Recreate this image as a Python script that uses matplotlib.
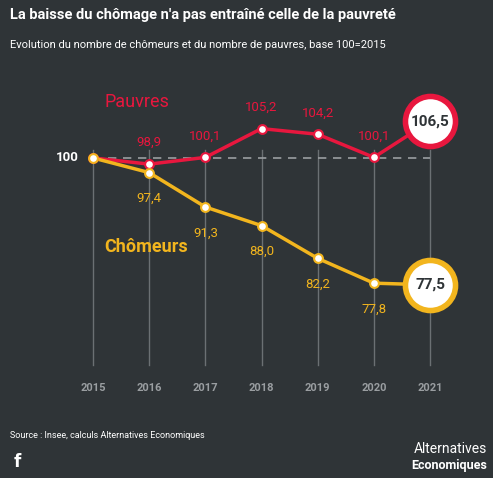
import matplotlib.pyplot as plt
import numpy as np

years = [2015, 2016, 2017, 2018, 2019, 2020, 2021]
pauvres = [100, 98.9, 100.1, 105.2, 104.2, 100.1, 106.5]
chomeurs = [100, 97.4, 91.3, 88.0, 82.2, 77.8, 77.5]

RED = '#e8173e'
YEL = '#f2b51e'
BG = '#2f3437'
GRID = '#6b7073'

def fmt(v):
    return f"{v:.1f}".replace('.', ',')

fig = plt.figure(figsize=(4.93, 4.78), dpi=100, facecolor=BG)
ax = fig.add_axes([0, 0, 1, 1])
ax.set_facecolor(BG)
ax.set_xlim(2013.344, 2022.121)
ax.set_ylim(43.26, 128.0)
ax.axis('off')

for y in years:
    ax.plot([y, y], [63.3, 101.4], color=GRID, lw=1, zorder=1)
    ax.text(y, 59.2, str(y), color='#9a9ea1', fontsize=8, ha='center', va='center',
            family='Roboto', fontweight='bold')
ax.plot([2015, 2021], [100, 100], color='#9a9ea1', lw=1.2, ls=(0, (5, 4)), zorder=1)

ax.plot(years, pauvres, color=RED, lw=2.5, zorder=3)
ax.plot(years, chomeurs, color=YEL, lw=2.5, zorder=3)
ax.scatter(years[:-1], pauvres[:-1], s=40, facecolor='white', edgecolor=RED, lw=1.5, zorder=4)
ax.scatter(years[:-1], chomeurs[:-1], s=40, facecolor='white', edgecolor=YEL, lw=1.5, zorder=4)
ax.scatter([2021], [pauvres[-1]], s=1300, facecolor='white', edgecolor=RED, lw=4, zorder=5)
ax.scatter([2021], [chomeurs[-1]], s=1300, facecolor='white', edgecolor=YEL, lw=4, zorder=5)
ax.text(2021, pauvres[-1], fmt(pauvres[-1]), color='#2f3437', fontsize=11, fontweight='bold',
        ha='center', va='center', zorder=6, family='Roboto')
ax.text(2021, chomeurs[-1], fmt(chomeurs[-1]), color='#2f3437', fontsize=11, fontweight='bold',
        ha='center', va='center', zorder=6, family='Roboto')

for y, v in zip(years[1:-1], pauvres[1:-1]):
    ax.text(y, v + 3.8, fmt(v), color=RED, fontsize=9.5, ha='center', va='center', family='Roboto')
for y, v in zip(years[1:-1], chomeurs[1:-1]):
    ax.text(y, v - 4.6, fmt(v), color=YEL, fontsize=9.5, ha='center', va='center', family='Roboto')

ax.text(2014.75, 100, '100', color='white', fontsize=9.5, ha='right', va='center',
        family='Roboto', fontweight='bold')
ax.text(2015.2, 110.0, 'Pauvres', color=RED, fontsize=13, ha='left', va='center', family='Roboto')
ax.text(2015.2, 84.2, 'Chômeurs', color=YEL, fontsize=13, ha='left', va='center', family='Roboto',
        fontweight='bold')

fig.text(10 / 493, 1 - 15 / 478, "La baisse du chômage n'a pas entraîné celle de la pauvreté",
         color='white', fontsize=10.5, fontweight='bold', va='center', family='Roboto')
fig.text(10 / 493, 1 - 45 / 478, "Evolution du nombre de chômeurs et du nombre de pauvres, base 100=2015",
         color='white', fontsize=8, va='center', family='Roboto')
fig.text(10 / 493, 1 - 435 / 478, "Source : Insee, calculs Alternatives Economiques",
         color='white', fontsize=6.5, va='center', family='Roboto')
fig.text(14 / 493, 1 - 462 / 478, "f", color='white', fontsize=12, fontweight='bold', va='center',
         family='DejaVu Sans')
fig.text(487 / 493, 1 - 449 / 478, "Alternatives", color='white', fontsize=10, ha='right', va='center',
         family='Roboto')
fig.text(487 / 493, 1 - 466 / 478, "Economiques", color='white', fontsize=9, fontweight='bold',
         ha='right', va='center', family='Roboto')

fig.savefig('out.png', dpi=100, facecolor=BG)
